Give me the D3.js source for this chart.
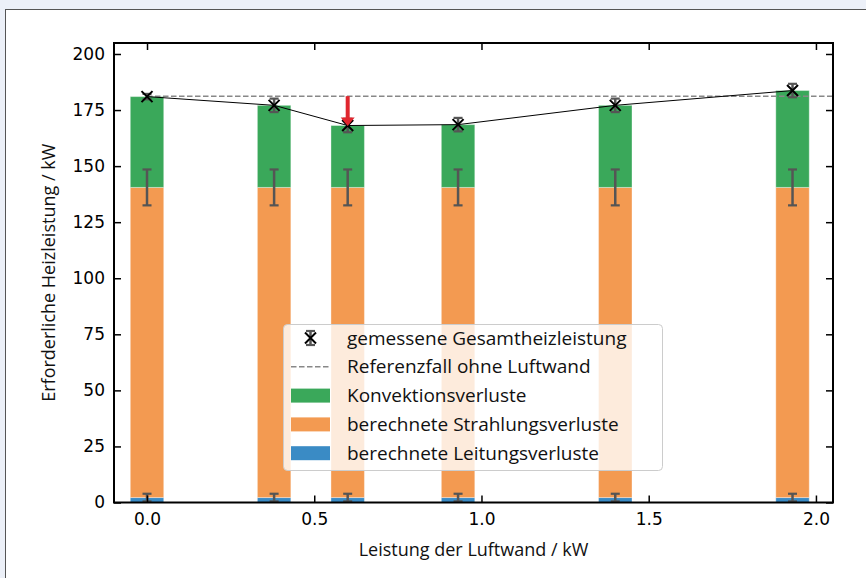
<!DOCTYPE html>
<html>
<head>
<meta charset="utf-8">
<script src="https://cdn.jsdelivr.net/npm/d3@7"></script>
<style>
  body { margin: 0; background: #ecf0f8; }
  svg { display: block; }
  .tick text { font-family: "DejaVu Sans", sans-serif; font-size: 17px; fill: #000; }
  .lbl { font-family: "Open Sans", sans-serif; font-size: 18px; fill: #111; }
</style>
</head>
<body>
<div id="chart"></div>
<script>
// Leistung der Luftwand (kW) for each measurement
const luftwand = [0, 0.38, 0.60, 0.93, 1.40, 1.93];
// stacked components (kW)
const leitung = [2.2, 2.2, 2.2, 2.2, 2.2, 2.2];
const leitungErr = [1.7, 1.7, 1.7, 1.7, 1.7, 1.7];
const strahlung = [138.3, 138.3, 138.3, 138.3, 138.3, 138.3];
const strahlungErr = [8, 8, 8, 8, 8, 8];
const konvektion = [40.5, 36.6, 27.6, 28.0, 36.6, 43.2];
// measured total
const gesamt = [181.0, 177.1, 168.1, 168.5, 177.1, 183.7];
const gesamtErr = [1.2, 3, 3, 3, 3, 3];
const referenz = 181.2;
const xTicks = [0, 0.5, 1.0, 1.5, 2.0];
const yTicks = [0, 25, 50, 75, 100, 125, 150, 175, 200];
const legendLabels = ["gemessene Gesamtheizleistung", "Referenzfall ohne Luftwand",
  "Konvektionsverluste", "berechnete Strahlungsverluste", "berechnete Leitungsverluste"];

const W = 866, H = 578;
const colors = {konv: "#3aa85a", strahl: "#f39a51", leit: "#3a8bc5", err: "#555555"};

const svg = d3.select("#chart").append("svg")
  .attr("width", W).attr("height", H);

// page background + white panel
svg.append("rect").attr("width", W).attr("height", H).attr("fill", "#ecf0f8");
svg.append("rect").attr("x", 5.5).attr("y", 9.5).attr("width", 900).attr("height", 600)
  .attr("fill", "#fff").attr("stroke", "#555").attr("stroke-width", 1);

const plot = {left: 114, right: 833, top: 43, bottom: 502.5};

const x = d3.scaleLinear().domain([-0.0987, 2.051]).range([plot.left, plot.right]);
const y = d3.scaleLinear().domain([0, 204.9]).range([plot.bottom, plot.top]);

const barW = 0.1;
const rows = luftwand.map((p, i) => ({
  p: p, leit: leitung[i], strahl: strahlung[i], konv: konvektion[i],
  leitErr: leitungErr[i], strahlErr: strahlungErr[i], ges: gesamt[i], gesErr: gesamtErr[i]
}));

const g = svg.append("g");

// stacked bars
function bars(key, y0, y1) {
  g.selectAll(".bar-" + key).data(rows).enter().append("rect")
    .attr("class", "bar-" + key)
    .attr("x", d => x(d.p - barW / 2))
    .attr("width", d => x(d.p + barW / 2) - x(d.p - barW / 2))
    .attr("y", d => y(y1(d)))
    .attr("height", d => y(y0(d)) - y(y1(d)))
    .attr("fill", colors[key])
    .attr("stroke", "rgba(255,255,255,0.35)")
    .attr("stroke-width", 1);
}
bars("leit", d => 0, d => d.leit);
bars("strahl", d => d.leit, d => d.leit + d.strahl);
bars("konv", d => d.leit + d.strahl, d => d.leit + d.strahl + d.konv);

// error bar drawn in pixel space
function errbarPx(sel, cx, yLo, yHi, color) {
  sel.append("line").attr("x1", cx).attr("x2", cx)
    .attr("y1", yLo).attr("y2", yHi)
    .attr("stroke", color).attr("stroke-width", 2.5);
  [yLo, yHi].forEach(v => {
    sel.append("line").attr("x1", cx - 4.5).attr("x2", cx + 4.5)
      .attr("y1", v).attr("y2", v)
      .attr("stroke", color).attr("stroke-width", 2.2);
  });
}
function errbar(sel, cx, cy, e, color) {
  errbarPx(sel, cx, y(cy - e), y(cy + e), color);
}
rows.forEach(d => {
  errbar(g, x(d.p), d.leit, d.leitErr, colors.err);
  errbar(g, x(d.p), d.leit + d.strahl, d.strahlErr, colors.err);
});

// reference line
g.append("line")
  .attr("x1", x(0)).attr("x2", plot.right)
  .attr("y1", y(referenz)).attr("y2", y(referenz))
  .attr("stroke", "#888").attr("stroke-width", 1.5)
  .attr("stroke-dasharray", "5.5,2.5");

// measured line
g.append("path").datum(rows)
  .attr("fill", "none").attr("stroke", "#000").attr("stroke-width", 1)
  .attr("d", d3.line().x(d => x(d.p)).y(d => y(d.ges)));

rows.forEach(d => errbar(g, x(d.p), d.ges, d.gesErr, colors.err));

function xMarker(sel, cx, cy) {
  const s = 5.5;
  sel.append("path")
    .attr("d", `M${cx - s},${cy - s}L${cx + s},${cy + s}M${cx - s},${cy + s}L${cx + s},${cy - s}`)
    .attr("stroke", "#000").attr("stroke-width", 2).attr("fill", "none");
}
rows.forEach(d => xMarker(g, x(d.p), y(d.ges)));

// red arrow at 0.6 kW
const ax = x(luftwand[2]);
const aTop = y(referenz), aTip = y(gesamt[2]);
g.append("line").attr("x1", ax).attr("x2", ax).attr("y1", aTop).attr("y2", aTip - 7)
  .attr("stroke", "#e0262e").attr("stroke-width", 4);
g.append("path")
  .attr("d", `M${ax - 7},${aTip - 8}L${ax + 7},${aTip - 8}L${ax},${aTip + 0.5}Z`)
  .attr("fill", "#e0262e");

// axes
const xAxis = d3.axisBottom(x).tickValues(xTicks).tickFormat(d3.format(".1f"))
  .tickSizeInner(-7).tickSizeOuter(0).tickPadding(10);
const yAxis = d3.axisLeft(y).tickValues(yTicks)
  .tickSizeInner(-7).tickSizeOuter(0).tickPadding(9);

function styleAxis(a) {
  a.select(".domain").remove();
  a.selectAll(".tick line").attr("stroke", "#000").attr("stroke-width", 1.5);
}
svg.append("g").attr("transform", `translate(0,${plot.bottom})`).call(xAxis).call(styleAxis);
svg.append("g").attr("transform", `translate(${plot.left},0)`).call(yAxis).call(styleAxis);
svg.append("g").attr("transform", `translate(0,${plot.top})`)
  .call(d3.axisTop(x).tickValues(xTicks).tickFormat("").tickSizeInner(-7).tickSizeOuter(0)).call(styleAxis);
svg.append("g").attr("transform", `translate(${plot.right},0)`)
  .call(d3.axisRight(y).tickValues(yTicks).tickFormat("").tickSizeInner(-7).tickSizeOuter(0)).call(styleAxis);

svg.selectAll(".tick text").attr("font-family", null).attr("font-size", null);

svg.append("rect")
  .attr("x", plot.left).attr("y", plot.top)
  .attr("width", plot.right - plot.left).attr("height", plot.bottom - plot.top)
  .attr("fill", "none").attr("stroke", "#000").attr("stroke-width", 2);

// axis labels
svg.append("text").attr("class", "lbl")
  .attr("x", (plot.left + plot.right) / 2).attr("y", 556)
  .attr("text-anchor", "middle").text("Leistung der Luftwand / kW");
svg.append("text").attr("class", "lbl")
  .attr("transform", `translate(55,${(plot.top + plot.bottom) / 2}) rotate(-90)`)
  .attr("text-anchor", "middle").text("Erforderliche Heizleistung / kW");

// legend
const lg = svg.append("g").attr("transform", "translate(283,324)");
lg.append("rect").attr("x", 0.5).attr("y", 0.5).attr("width", 379).attr("height", 146)
  .attr("rx", 4).attr("fill", "#fff").attr("fill-opacity", 0.8)
  .attr("stroke", "#ccc").attr("stroke-width", 1);
const rowY = i => 14 + i * 28.8;
const hx0 = 8, hx1 = 47;
const mcx = (hx0 + hx1) / 2, mcy = rowY(0);
errbarPx(lg, mcx, mcy + 7, mcy - 7, colors.err);
xMarker(lg, mcx, mcy);
lg.append("line").attr("x1", hx0).attr("x2", hx1).attr("y1", rowY(1)).attr("y2", rowY(1))
  .attr("stroke", "#888").attr("stroke-width", 1.5).attr("stroke-dasharray", "5.5,2.5");
[colors.konv, colors.strahl, colors.leit].forEach((c, i) => {
  lg.append("rect").attr("x", hx0).attr("y", rowY(i + 2) - 7)
    .attr("width", hx1 - hx0).attr("height", 14).attr("fill", c);
});
legendLabels.forEach((t, i) => {
  lg.append("text").attr("class", "lbl").attr("x", 64).attr("y", rowY(i))
    .attr("dy", "0.35em").style("font-size", "19px").text(t);
});
</script>
</body>
</html>
